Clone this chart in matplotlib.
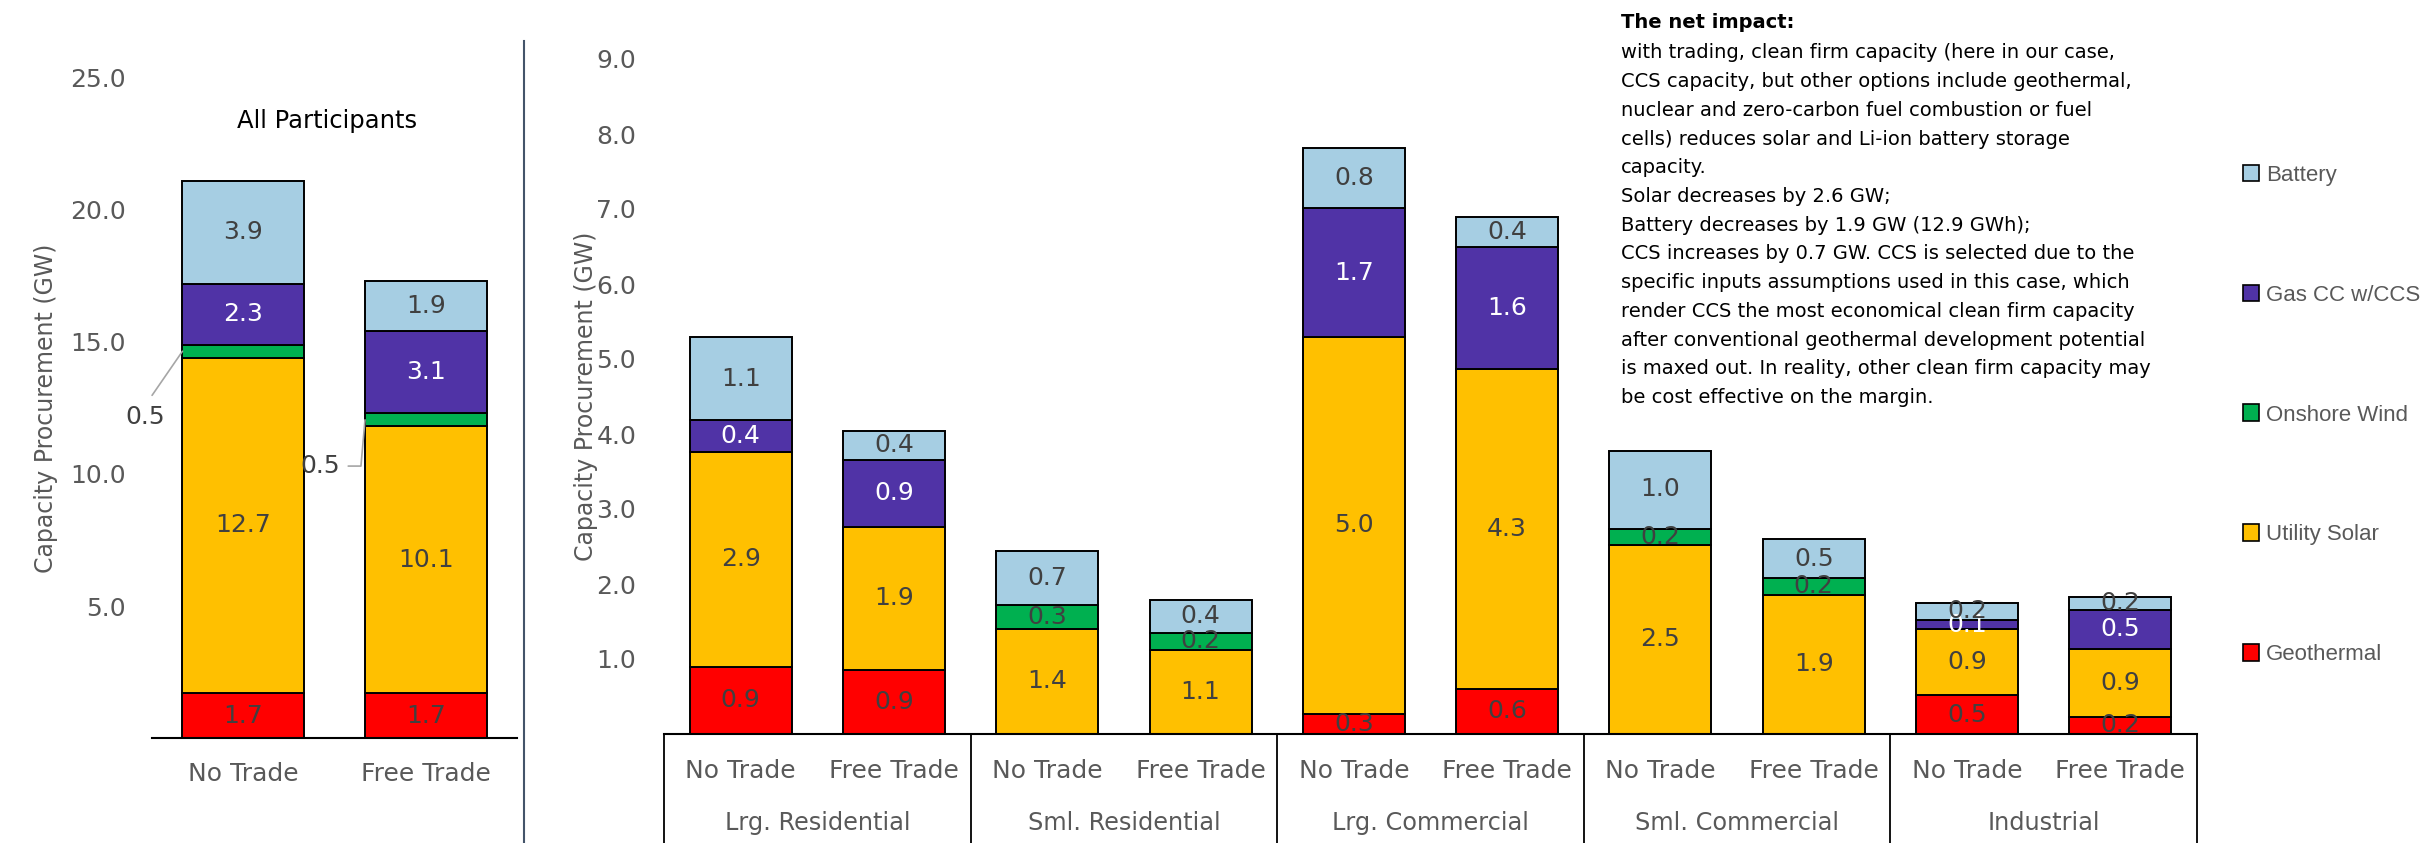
import matplotlib
matplotlib.use('Agg')
import matplotlib.pyplot as plt
from matplotlib.patches import Patch
from matplotlib.lines import Line2D

# categories
trade_cases = ['No Trade', 'Free Trade']
sectors = ['Lrg. Residential', 'Sml. Residential', 'Lrg. Commercial',
           'Sml. Commercial', 'Industrial']
techs = ['Geothermal', 'Utility Solar', 'Onshore Wind', 'Gas CC w/CCS', 'Battery']
colors = ['#FF0000', '#FFC000', '#00B050', '#5033A6', '#A6CEE3']
label_colors = ['#404040', '#404040', '#404040', 'white', '#404040']

# All participants (GW): No Trade, Free Trade
all_geo = [1.7, 1.7]
all_solar = [12.7, 10.1]
all_wind = [0.5, 0.5]
all_gas = [2.3, 3.1]
all_battery = [3.9, 1.9]

# by sector (GW), No Trade / Free Trade pairs
sec_geo = [0.9, 0.86, 0, 0, 0.27, 0.6, 0, 0, 0.52, 0.23]
sec_solar = [2.86, 1.9, 1.4, 1.12, 5.02, 4.27, 2.52, 1.86, 0.88, 0.91]
sec_wind = [0, 0, 0.32, 0.23, 0, 0, 0.22, 0.22, 0, 0]
sec_gas = [0.43, 0.9, 0, 0, 1.72, 1.62, 0, 0, 0.12, 0.52]
sec_battery = [1.1, 0.38, 0.72, 0.44, 0.8, 0.4, 1.04, 0.52, 0.23, 0.17]

note_title = 'The net impact:'
note_lines = [
    'with trading, clean firm capacity (here in our case,',
    'CCS capacity, but other options include geothermal,',
    'nuclear and zero-carbon fuel combustion or fuel',
    'cells) reduces solar and Li-ion battery storage',
    'capacity.',
    'Solar decreases by 2.6 GW;',
    'Battery decreases by 1.9 GW (12.9 GWh);',
    'CCS increases by 0.7 GW. CCS is selected due to the',
    'specific inputs assumptions used in this case, which',
    'render CCS the most economical clean firm capacity',
    'after conventional geothermal development potential',
    'is maxed out. In reality, other clean firm capacity may',
    'be cost effective on the margin.',
]

plt.rcParams['font.family'] = 'DejaVu Sans'
W, H = 2432, 843
fig = plt.figure(figsize=(W / 100, H / 100), dpi=100)

ax1 = fig.add_axes([152 / W, 105 / H, 365 / W, 660 / H])
ax2 = fig.add_axes([664 / W, 109 / H, 1533 / W, 675 / H])

gray = '#595959'
for ax in (ax1, ax2):
    for s in ('top', 'right', 'left'):
        ax.spines[s].set_visible(False)
    ax.spines['bottom'].set_color('black')
    ax.spines['bottom'].set_linewidth(1.5)
    ax.tick_params(axis='both', length=0, labelsize=18, labelcolor=gray)
    ax.set_ylabel('Capacity Procurement (GW)', fontsize=17, color=gray)


def stack(ax, x, series, width, skip_labels=()):
    bottom = [0] * len(x)
    for i, vals in enumerate(series):
        bars = ax.bar(x, vals, width, bottom=bottom, color=colors[i],
                      edgecolor='black', linewidth=1.4, label=techs[i])
        if i not in skip_labels:
            labels = [f'{v:.1f}' if v > 0 else '' for v in vals]
            ax.bar_label(bars, labels=labels, label_type='center',
                         fontsize=18, color=label_colors[i])
        bottom = [b + v for b, v in zip(bottom, vals)]


# left panel: all participants
x1 = list(range(len(trade_cases)))
stack(ax1, x1, [all_geo, all_solar, all_wind, all_gas, all_battery], 0.667,
      skip_labels=(2,))
ax1.set_xlim(-0.5, 1.5)
ax1.set_ylim(0, 25)
ax1.set_yticks([5, 10, 15, 20, 25])
ax1.set_yticklabels([f'{t:.1f}' for t in [5, 10, 15, 20, 25]])
ax1.tick_params(axis='y', pad=19)
ax1.set_xticks(x1)
ax1.set_xticklabels(trade_cases)
ax1.tick_params(axis='x', pad=17)
ax1.yaxis.set_label_coords(-0.257, 0.5)
ax1.text(0.479, 0.935, 'All Participants', transform=ax1.transAxes,
         ha='center', va='center', fontsize=17.5, color='black')

# wind callouts
w0 = all_geo[0] + all_solar[0] + all_wind[0] / 2
w1 = all_geo[1] + all_solar[1] + all_wind[1] / 2
ax1.annotate(f'{all_wind[0]:.1f}', xy=(-0.333, w0), xytext=(-0.536, 12.16),
             ha='center', va='center', fontsize=18, color='#404040',
             arrowprops=dict(arrowstyle='-', color='#A6A6A6', lw=1.2,
                             relpos=(0.5, 1.0), shrinkA=6, shrinkB=0))
ax1.annotate(f'{all_wind[1]:.1f}', xy=(0.667, w1), xytext=(0.421, 10.3),
             ha='center', va='center', fontsize=18, color='#404040',
             arrowprops=dict(arrowstyle='-', color='#A6A6A6', lw=1.2,
                             relpos=(1.0, 0.5), shrinkA=4, shrinkB=0,
                             connectionstyle='angle,angleA=0,angleB=85,rad=0'))

# right panel: by sector
x2 = list(range(len(sectors) * 2))
stack(ax2, x2, [sec_geo, sec_solar, sec_wind, sec_gas, sec_battery], 0.665)
ax2.set_xlim(-0.5, len(x2) - 0.5)
ax2.set_ylim(0, 9)
ax2.set_yticks(range(1, 10))
ax2.set_yticklabels([f'{t:.1f}' for t in range(1, 10)])
ax2.tick_params(axis='y', pad=20)
ax2.set_xticks(x2)
ax2.set_xticklabels(trade_cases * len(sectors))
ax2.tick_params(axis='x', pad=18)
ax2.yaxis.set_label_coords(-0.043, 0.5)

tr = ax2.get_xaxis_transform()
for k in range(len(sectors) + 1):
    xb = 2 * k - 0.5
    ax2.plot([xb, xb], [0, -0.175], transform=tr, color='black', lw=1.3,
             clip_on=False)
for k, name in enumerate(sectors):
    ax2.text(2 * k + 0.5, -0.132, name, transform=tr, ha='center',
             va='center', fontsize=17.3, color=gray)

# divider between panels
fig.add_artist(Line2D([524 / W, 524 / W], [1 - 41 / H, 0],
                      transform=fig.transFigure, color='#44546A', lw=1.5))

# note text
fig.text(1621 / W, 1 - 23 / H, note_title, fontsize=14, weight='bold',
         va='center', ha='left')
for i, line in enumerate(note_lines):
    fig.text(1621 / W, 1 - (53 + 28.7 * i) / H, line, fontsize=14,
             va='center', ha='left')

# legend
handles = [Patch(facecolor=c, edgecolor='black', linewidth=1.2, label=t)
           for c, t in zip(colors, techs)][::-1]
fig.legend(handles=handles, loc='center left',
           bbox_to_anchor=(2223 / W, 1 - 415 / H), frameon=False,
           prop={'family': 'Liberation Sans', 'size': 16},
           labelcolor=gray, handlelength=0.72, handleheight=0.77,
           handletextpad=0.3, labelspacing=4.45)

fig.savefig('out.png', dpi=100)
